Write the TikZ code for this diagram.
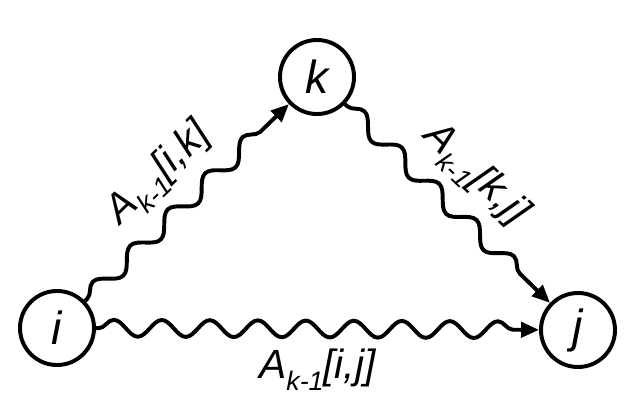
\documentclass[tikz,border=0pt]{standalone}
\usepackage{fontspec}
\setmainfont{Liberation Sans}
\usetikzlibrary{decorations.pathmorphing,arrows.meta}

\newcommand{\sub}[1]{\raisebox{-0.28em}{\fontsize{19}{20}\selectfont #1}}

\begin{document}
\begin{tikzpicture}[
	x=0.025cm, y=-0.025cm,
	vertex/.style={ circle, draw, line width=2.8pt, inner sep=0pt, minimum size=1.85cm, font=\fontsize{33}{34}\selectfont\itshape },
	wave/.style={ line width=2.8pt, -{Triangle[length=0.45cm,width=0.38cm]}, decorate,
		decoration={snake, amplitude=0.21cm, segment length=#1, pre length=2pt, post length=0.45cm} },
	wave/.default=1.2cm,
	lbl/.style={ font=\fontsize{29}{30}\selectfont\itshape, inner sep=12pt }
]
\useasboundingbox (0,0) rectangle (638,408);

\node at (57,328) (i) [vertex] {i};
\node at (317,77) (k) [vertex] {k};
\node at (578,330) (j) [vertex] {j};

\draw[wave=1.3cm] (i) to node[lbl,midway,above,sloped] {A\sub{k-1}[i,k]} (k);
\draw[wave=1.3cm] (k) to node[lbl,midway,above,sloped] {A\sub{k-1}[k,j]} (j);
\draw[wave] (i) to node[lbl,midway,below,inner sep=13pt] {A\sub{k-1}[i,j]} (j);

\end{tikzpicture}
\end{document}
